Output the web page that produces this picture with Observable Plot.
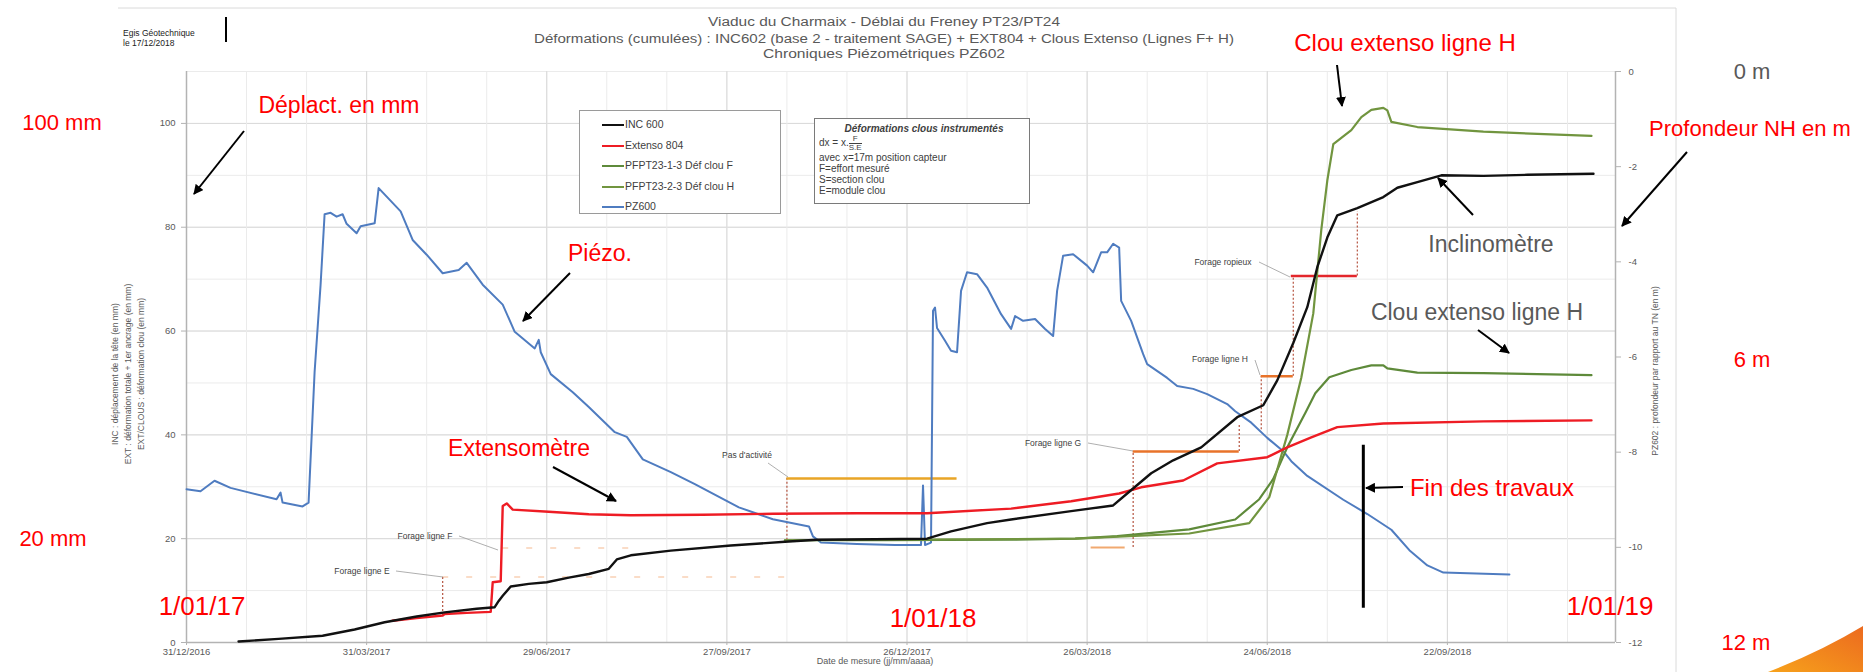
<!DOCTYPE html>
<html><head><meta charset="utf-8">
<script src="https://cdn.jsdelivr.net/npm/d3@7"></script>
<script src="https://cdn.jsdelivr.net/npm/@observablehq/plot@0.6"></script>
<style>
body{margin:0;background:#fff;}
#wrap{position:relative;width:1863px;height:672px;overflow:hidden;font-family:"Liberation Sans",Arial,sans-serif;}
#wrap svg{position:absolute;left:0;top:0;}
.box{position:absolute;background:#fff;box-sizing:border-box;font-family:"Liberation Sans",Arial,sans-serif;color:#404040;}
.leg{left:579px;top:110px;width:202px;height:104px;border:1.5px solid #9a9a9a;font-size:10.5px;}
.leg .row{position:absolute;left:22px;height:14px;line-height:14px;white-space:nowrap;}
.leg .sw{display:inline-block;width:22px;height:0;border-top:2px solid #000;vertical-align:middle;margin-right:1px;}
.frm{left:814px;top:118px;width:216px;height:86px;border:1.5px solid #7a7a7a;font-size:10px;line-height:11px;padding:4px 0 0 4px;}
.frm .t{text-align:center;font-style:italic;font-weight:bold;font-size:10px;margin-bottom:1px;}
.frac{display:inline-block;vertical-align:middle;text-align:center;font-size:8px;line-height:8px;}
.frac span{display:block;}
.frac .n{border-bottom:1px solid #404040;padding:0 1px;}
</style></head><body><div id="wrap"></div>
<script>
// ---------------- data ----------------
const xTickLabels = ["31/12/2016","31/03/2017","29/06/2017","27/09/2017","26/12/2017","26/03/2018","24/06/2018","22/09/2018"];
const leftTicks = [0,20,40,60,80,100];
const rightTicks = [0,-2,-4,-6,-8,-10,-12];
const leftDomain = [0,110];
const rightDomain = [-12,0];
const xDomain = ["2016-12-31","2018-12-15"];

const legendLabels = ["INC 600","Extenso 804","PFPT23-1-3 Déf clou F","PFPT23-2-3 Déf clou H","PZ600"];

// INC 600 – déplacement (mm)
const inc600 = [["2017-01-26",0.2],["2017-02-15",0.7],["2017-03-09",1.3],["2017-03-25",2.5],["2017-04-09",3.9],["2017-04-25",5.0],["2017-05-09",5.8],["2017-05-25",6.5],["2017-06-03",6.8],["2017-06-05",8.0],["2017-06-07",9.0],["2017-06-11",10.8],["2017-06-20",11.3],["2017-06-29",11.6],["2017-07-10",12.5],["2017-07-20",13.2],["2017-07-30",14.2],["2017-08-03",16.0],["2017-08-10",16.8],["2017-08-30",17.7],["2017-09-29",18.7],["2017-10-26",19.4],["2017-11-11",19.8],["2017-12-10",19.9],["2018-01-05",20.0],["2018-01-17",21.4],["2018-02-04",23.0],["2018-02-16",23.7],["2018-03-18",25.3],["2018-04-08",26.4],["2018-04-15",28.7],["2018-04-27",32.6],["2018-05-08",35.1],["2018-05-22",37.6],["2018-06-09",43.4],["2018-06-22",45.7],["2018-06-29",50.5],["2018-07-07",57.7],["2018-07-14",64.6],["2018-07-19",72.3],["2018-07-24",78.0],["2018-07-29",82.3],["2018-08-08",83.7],["2018-08-21",85.8],["2018-08-28",87.6],["2018-09-07",88.7],["2018-09-19",90.0],["2018-10-10",89.9],["2018-11-01",90.1],["2018-12-04",90.3]];

// Extenso 804 (mm)
const extenso804 = [["2017-04-13",4.2],["2017-04-25",4.7],["2017-05-08",5.2],["2017-05-09",5.5],["2017-05-20",5.7],["2017-06-01",5.9],["2017-06-02",11.6],["2017-06-06",11.8],["2017-06-07",26.3],["2017-06-09",26.8],["2017-06-12",25.6],["2017-06-30",25.2],["2017-07-20",24.7],["2017-08-10",24.5],["2017-09-15",24.6],["2017-10-20",24.8],["2017-12-01",24.9],["2018-01-05",24.9],["2018-02-16",25.8],["2018-03-18",27.2],["2018-04-11",28.7],["2018-04-22",29.9],["2018-05-13",31.2],["2018-05-30",34.5],["2018-06-24",35.7],["2018-07-04",37.6],["2018-07-16",39.5],["2018-07-29",41.5],["2018-08-21",42.2],["2018-10-10",42.6],["2018-12-03",42.8]];

// Clou F (mm)
const clouF = [["2017-10-26",19.7],["2017-12-15",19.7],["2018-02-15",19.8],["2018-03-20",20.0],["2018-04-10",20.5],["2018-05-16",21.8],["2018-06-08",23.7],["2018-06-20",27.6],["2018-06-27",31.5],["2018-07-04",37.6],["2018-07-13",44.2],["2018-07-18",48.0],["2018-07-25",51.1],["2018-08-05",52.5],["2018-08-15",53.4],["2018-08-21",53.4],["2018-08-23",52.8],["2018-09-07",52.0],["2018-10-10",51.9],["2018-12-03",51.5]];

// Clou H (mm)
const clouH = [["2017-10-26",19.7],["2018-03-20",20.0],["2018-05-16",21.0],["2018-06-15",23.0],["2018-06-25",28.0],["2018-07-04",40.0],["2018-07-11",51.0],["2018-07-17",63.4],["2018-07-21",79.5],["2018-07-24",89.0],["2018-07-27",96.0],["2018-08-05",98.7],["2018-08-10",101.2],["2018-08-15",102.6],["2018-08-21",103.0],["2018-08-23",102.5],["2018-08-25",100.3],["2018-09-07",99.3],["2018-10-10",98.4],["2018-12-03",97.6]];

// PZ600 – profondeur NH (m)
const pz600 = [["2016-12-31",-8.78],["2017-01-07",-8.82],["2017-01-14",-8.6],["2017-01-22",-8.75],["2017-02-14",-8.99],["2017-02-16",-8.85],["2017-02-17",-9.06],["2017-02-27",-9.14],["2017-03-02",-9.06],["2017-03-05",-6.32],["2017-03-08",-4.48],["2017-03-10",-3.0],["2017-03-13",-2.97],["2017-03-16",-3.05],["2017-03-19",-3.0],["2017-03-21",-3.2],["2017-03-26",-3.4],["2017-03-28",-3.25],["2017-04-04",-3.19],["2017-04-06",-2.45],["2017-04-17",-2.94],["2017-04-23",-3.54],["2017-04-30",-3.85],["2017-05-08",-4.24],["2017-05-16",-4.17],["2017-05-20",-4.02],["2017-05-28",-4.48],["2017-06-07",-4.9],["2017-06-13",-5.47],["2017-06-23",-5.82],["2017-06-25",-5.64],["2017-06-26",-5.9],["2017-07-01",-6.36],["2017-07-12",-6.74],["2017-07-20",-7.05],["2017-08-02",-7.58],["2017-08-08",-7.68],["2017-08-16",-8.15],["2017-08-30",-8.42],["2017-09-11",-8.67],["2017-10-03",-9.16],["2017-10-20",-9.41],["2017-11-07",-9.56],["2017-11-09",-9.77],["2017-11-13",-9.9],["2017-12-01",-9.93],["2017-12-20",-9.95],["2018-01-02",-9.95],["2018-01-03",-8.7],["2018-01-04",-9.95],["2018-01-07",-9.9],["2018-01-08",-5.03],["2018-01-09",-4.96],["2018-01-10",-5.39],["2018-01-14",-5.66],["2018-01-17",-5.87],["2018-01-20",-5.9],["2018-01-22",-4.61],["2018-01-25",-4.22],["2018-01-30",-4.26],["2018-02-04",-4.54],["2018-02-11",-5.1],["2018-02-16",-5.41],["2018-02-18",-5.14],["2018-02-22",-5.24],["2018-02-28",-5.2],["2018-03-05",-5.41],["2018-03-09",-5.56],["2018-03-11",-4.61],["2018-03-14",-3.87],["2018-03-19",-3.84],["2018-03-26",-4.08],["2018-03-29",-4.22],["2018-04-02",-3.8],["2018-04-05",-3.8],["2018-04-08",-3.62],["2018-04-11",-3.7],["2018-04-12",-4.82],["2018-04-17",-5.24],["2018-04-23",-5.94],["2018-04-25",-6.15],["2018-05-05",-6.44],["2018-05-10",-6.61],["2018-05-18",-6.67],["2018-05-25",-6.78],["2018-06-04",-6.99],["2018-06-08",-7.14],["2018-06-16",-7.38],["2018-06-24",-7.7],["2018-07-02",-7.98],["2018-07-06",-8.19],["2018-07-14",-8.5],["2018-08-01",-9.0],["2018-08-13",-9.3],["2018-08-25",-9.63],["2018-09-03",-10.06],["2018-09-12",-10.38],["2018-09-20",-10.53],["2018-10-23",-10.57]];

// Forage / activity segments (mm level)
const forageSegments = [
  {start:"2017-10-27", end:"2018-01-20", value:31.6, color:"#E9A526", w:2.5, op:1},
  {start:"2018-03-28", end:"2018-04-14", value:18.3, color:"#F0A060", w:2, op:0.9},
  {start:"2018-04-18", end:"2018-06-10", value:36.8, color:"#E8732A", w:2.5, op:1},
  {start:"2018-06-21", end:"2018-07-07", value:51.3, color:"#E8732A", w:2.5, op:1},
  {start:"2018-07-06", end:"2018-08-08", value:70.6, color:"#E3262B", w:2.5, op:1}
];
const forageFaint = [
  {start:"2017-05-08", end:"2017-10-28", value:12.6},
  {start:"2017-06-07", end:"2017-08-12", value:18.2}
];
const forageLinks = [
  {date:"2017-05-08", from:5.2, to:12.6},
  {date:"2017-10-27", from:19.7, to:31.6},
  {date:"2018-04-18", from:18.3, to:36.8},
  {date:"2018-06-10", from:36.8, to:42.0},
  {date:"2018-06-21", from:41.0, to:51.3},
  {date:"2018-07-07", from:51.3, to:70.6},
  {date:"2018-08-08", from:70.6, to:83.0}
];
const finTravaux = [{date:"2018-08-11", from:6.6, to:38}];

// ---------------- chart ----------------
const parse = d3.utcParse("%Y-%m-%d");
const parseTick = d3.utcParse("%d/%m/%Y");
const toLeft = v => (v - rightDomain[0]) * (leftDomain[1]-leftDomain[0]) / (rightDomain[1]-rightDomain[0]) + leftDomain[0];
const fromLeft = v => (v - leftDomain[0]) * (rightDomain[1]-rightDomain[0]) / (leftDomain[1]-leftDomain[0]) + rightDomain[0];
const rows = arr => arr.map(([d,v]) => ({date: parse(d), value: v}));
const x0 = parse(xDomain[0]), x1 = parse(xDomain[1]);
const gridMinor = d3.range(30, 715, 30).map(i => d3.utcDay.offset(x0, i));
const gridMajor = xTickLabels.map(parseTick);

const segs = forageSegments.map(s => ({...s, start: parse(s.start), end: parse(s.end)}));
const faint = forageFaint.map(s => ({...s, start: parse(s.start), end: parse(s.end)}));
const links = forageLinks.map(s => ({...s, date: parse(s.date)}));
const fin = finTravaux.map(s => ({...s, date: parse(s.date)}));

const chart = Plot.plot({
  width: 1863, height: 672,
  marginLeft: 186, marginRight: 248, marginTop: 71, marginBottom: 30,
  x: {type: "utc", domain: [x0, x1]},
  y: {domain: leftDomain},
  style: {fontFamily: "'Liberation Sans', Arial, sans-serif", fontSize: "9.5px", color: "#595959", background: "transparent"},
  marks: [
    Plot.ruleY(d3.range(10, 111, 10), {stroke: "#ebebeb", strokeWidth: 1}),
    Plot.ruleY(d3.range(20, 111, 20), {stroke: "#d9d9d9", strokeWidth: 1}),
    Plot.ruleX(gridMinor, {stroke: "#ebebeb", strokeWidth: 1}),
    Plot.ruleX(gridMajor, {stroke: "#d9d9d9", strokeWidth: 1}),
    Plot.ruleX([x0, x1], {stroke: "#b3b3b3", strokeWidth: 1.5}),
    Plot.ruleY([0], {stroke: "#b3b3b3", strokeWidth: 1.5}),
    Plot.axisX({ticks: gridMajor, tickFormat: d3.utcFormat("%d/%m/%Y"), tickSize: 3, tickPadding: 3, label: null, stroke: "#b3b3b3"}),
    Plot.axisY({anchor: "left", ticks: leftTicks, tickSize: 5, tickPadding: 6, label: null, stroke: "#b3b3b3"}),
    Plot.axisY({anchor: "right", ticks: rightTicks.map(toLeft), tickFormat: d => String(Math.round(fromLeft(d))), tickSize: 5, tickPadding: 8, label: null, stroke: "#b3b3b3"}),
    Plot.ruleY(faint, {y: "value", x1: "start", x2: "end", stroke: "#F4B183", strokeWidth: 2, strokeOpacity: 0.45, strokeDasharray: "6,18"}),
    Plot.ruleX(links, {x: "date", y1: "from", y2: "to", stroke: "#B5533F", strokeWidth: 1.2, strokeDasharray: "2,2"}),
    Plot.ruleY(segs, {y: "value", x1: "start", x2: "end", stroke: d => d.color, strokeWidth: d => d.w, strokeOpacity: d => d.op}),
    Plot.line(rows(pz600), {x: "date", y: d => toLeft(d.value), stroke: "#4F7CC0", strokeWidth: 2}),
    Plot.line(rows(clouF), {x: "date", y: "value", stroke: "#5E8A3A", strokeWidth: 2.2}),
    Plot.line(rows(clouH), {x: "date", y: "value", stroke: "#71953F", strokeWidth: 2.2}),
    Plot.line(rows(extenso804), {x: "date", y: "value", stroke: "#EE1C24", strokeWidth: 2.4}),
    Plot.line(rows(inc600), {x: "date", y: "value", stroke: "#111", strokeWidth: 2.4}),
    Plot.ruleX(fin, {x: "date", y1: "from", y2: "to", stroke: "#000", strokeWidth: 3})
  ],
  color: {type: "identity"}
});
const wrap = document.getElementById("wrap");
wrap.appendChild(chart);

// ---------------- overlay (titles, annotations) ----------------
const ov = d3.select(wrap).append("svg").attr("width", 1863).attr("height", 672).style("pointer-events","none");
const defs = ov.append("defs");
defs.append("marker").attr("id","ah").attr("viewBox","0 0 10 10").attr("refX",9).attr("refY",5)
  .attr("markerWidth",5).attr("markerHeight",5).attr("orient","auto")
  .append("path").attr("d","M0,0 L10,5 L0,10 z").attr("fill","#000");
const grad = defs.append("linearGradient").attr("id","og").attr("x1","0").attr("y1","1").attr("x2","1").attr("y2","0");
grad.append("stop").attr("offset","0").attr("stop-color","#F7A21B");
grad.append("stop").attr("offset","1").attr("stop-color","#EC6A1F");

// frame
ov.append("line").attr("x1",118).attr("x2",1676).attr("y1",8).attr("y2",8).attr("stroke","#dadada");
ov.append("line").attr("x1",1676).attr("x2",1676).attr("y1",8).attr("y2",672).attr("stroke","#dadada");

function T(x, y, s, o = {}) {
  const t = ov.append("text").attr("x", x).attr("y", y).text(s)
    .attr("text-anchor", o.anchor || "middle").attr("dominant-baseline", "central")
    .attr("font-family", o.family || "'Liberation Sans', Arial, sans-serif")
    .attr("font-size", o.size || 22).attr("fill", o.fill || "#FF0000");
  if (o.rotate) t.attr("transform", `rotate(${o.rotate},${x},${y})`);
  if (o.style) t.attr("font-style", o.style);
  if (o.len) t.attr("textLength", o.len).attr("lengthAdjust", "spacingAndGlyphs");
  return t;
}
function A(x1, y1, x2, y2, w = 2) {
  ov.append("line").attr("x1",x1).attr("y1",y1).attr("x2",x2).attr("y2",y2)
    .attr("stroke","#000").attr("stroke-width",w).attr("marker-end","url(#ah)");
}
function L(x1, y1, x2, y2) {
  ov.append("path").attr("d",`M${x1},${y1} L${x2},${y2}`).attr("stroke","#9a9a9a").attr("stroke-width",0.8).attr("fill","none");
}

// header
T(123, 33, "Egis Géotechnique", {anchor:"start", size:8.5, fill:"#222"});
T(123, 43, "le 17/12/2018", {anchor:"start", size:8.5, fill:"#222"});
ov.append("line").attr("x1",226).attr("x2",226).attr("y1",17).attr("y2",42).attr("stroke","#000").attr("stroke-width",2);
T(884, 22, "Viaduc du Charmaix - Déblai du Freney PT23/PT24", {size:12, fill:"#595959", len:352});
T(884, 39, "Déformations (cumulées)  : INC602 (base 2 -  traitement SAGE) + EXT804 + Clous Extenso (Lignes F+ H)", {size:12, fill:"#595959", len:700});
T(884, 54, "Chroniques Piézométriques PZ602", {size:12, fill:"#595959", len:242});

// axis titles
T(115, 374, "INC : déplacement de la tête (en mm)", {size:8.5, fill:"#595959", rotate:-90});
T(128, 374, "EXT : déformation totale + 1er ancrage (en mm)", {size:8.5, fill:"#595959", rotate:-90});
T(141, 374, "EXT/CLOUS : déformation clou (en mm)", {size:8.5, fill:"#595959", rotate:-90});
T(1655, 371, "PZ602 : profondeur par rapport au TN (en m)", {size:8.5, fill:"#595959", rotate:-90});
T(875, 661, "Date de mesure (jj/mm/aaaa)", {size:9, fill:"#595959"});

// forage labels
const lab = (x,y,s) => T(x, y, s, {size:8.5, fill:"#404040"});
lab(362, 571, "Forage ligne E"); L(396, 571, 443, 577);
lab(425, 536, "Forage ligne F"); L(459, 536, 498, 550);
lab(747, 455, "Pas d'activité"); L(768, 463, 788, 477);
lab(1053, 443, "Forage ligne G"); L(1088, 443, 1133, 451);
lab(1220, 359, "Forage ligne H"); L(1255, 360, 1260, 375);
lab(1223, 262, "Forage ropieux"); L(1259, 262, 1290, 277);

// annotations
T(1405, 42, "Clou extenso ligne H", {size:24}); A(1337, 65, 1342, 106);
T(1752, 71, "0 m", {fill:"#595959"});
T(339, 105, "Déplact. en mm", {size:23});
T(62, 122, "100 mm"); A(244, 131, 194, 194);
T(1750, 128, "Profondeur NH en m"); A(1687, 152, 1622, 226);
T(600, 253, "Piézo.", {size:23}); A(570, 273, 523, 321);
T(1491, 244, "Inclinomètre", {fill:"#595959", size:23}); A(1473, 215, 1438, 178);
T(1477, 312, "Clou extenso ligne H", {fill:"#595959", size:23}); A(1478, 330, 1509, 353);
T(1752, 359, "6 m");
T(519, 448, "Extensomètre", {size:23}); A(553, 467, 616, 501);
T(1492, 487, "Fin des travaux", {size:24}); A(1403, 487, 1366, 488);
T(53, 538, "20 mm");
T(202, 606, "1/01/17", {size:26});
T(933, 618, "1/01/18", {size:26});
T(1610, 606, "1/01/19", {size:26});
T(1746, 642, "12 m");

// corner decoration
ov.append("path").attr("d","M1768,672 Q1820,652 1863,626 L1863,672 Z").attr("fill","url(#og)");

// ---------------- legend & formula boxes ----------------
const legColors = ["#111","#EE1C24","#5E8A3A","#71953F","#4F7CC0"];
const leg = d3.select(wrap).append("div").attr("class","box leg");
legendLabels.forEach((s,i) => {
  const r = leg.append("div").attr("class","row").style("top", (6 + i*20.5) + "px");
  r.append("span").attr("class","sw").style("border-top-color", legColors[i]);
  r.append("span").text(s);
});
const frm = d3.select(wrap).append("div").attr("class","box frm");
frm.append("div").attr("class","t").text("Déformations clous instrumentés");
frm.append("div").html('dx = x.<span class="frac"><span class="n">F</span><span>S.E</span></span>');
["avec x=17m position capteur","F=effort mesuré","S=section clou","E=module clou"].forEach(s => frm.append("div").text(s));
</script></body></html>
